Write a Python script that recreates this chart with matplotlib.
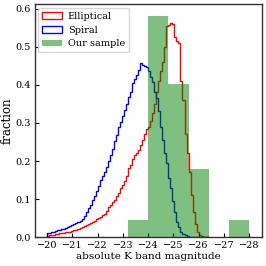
import numpy as np
import matplotlib
matplotlib.use("Agg")
import matplotlib.pyplot as plt

plt.rcParams['font.family'] = ['DejaVu Serif']

# Fine-binned fractions (density per mag), bins of 0.08 mag starting at -20.0 going brighter
fine_start = -20.0
fine_width = 0.08
elliptical = [
    0.004, 0.005, 0.006, 0.007, 0.008, 0.009, 0.010, 0.0105, 0.012, 0.013,
    0.014, 0.015, 0.017, 0.019, 0.020, 0.022, 0.025, 0.027, 0.030, 0.033,
    0.035, 0.038, 0.040, 0.043, 0.047, 0.050, 0.054, 0.058, 0.062, 0.070,
    0.080, 0.085, 0.092, 0.098, 0.108, 0.115, 0.128, 0.138, 0.148, 0.160,
    0.183, 0.190, 0.205, 0.215, 0.220, 0.228, 0.242, 0.255, 0.270, 0.284,
    0.290, 0.305, 0.325, 0.350, 0.380, 0.410, 0.435, 0.460, 0.500, 0.553,
    0.557, 0.563, 0.560, 0.525, 0.515, 0.510, 0.410, 0.360, 0.270, 0.220,
    0.170, 0.110, 0.065, 0.035, 0.015, 0.006, 0.003, 0.001, 0.0, 0.0,
]
spiral = [
    0.011, 0.012, 0.014, 0.015, 0.017, 0.019, 0.020, 0.022, 0.023, 0.025,
    0.027, 0.030, 0.032, 0.034, 0.037, 0.040, 0.043, 0.048, 0.055, 0.065,
    0.076, 0.085, 0.097, 0.108, 0.122, 0.135, 0.150, 0.162, 0.172, 0.185,
    0.200, 0.215, 0.232, 0.252, 0.268, 0.290, 0.302, 0.318, 0.334, 0.350,
    0.369, 0.380, 0.404, 0.415, 0.426, 0.440, 0.457, 0.452, 0.450, 0.446,
    0.435, 0.421, 0.408, 0.382, 0.365, 0.330, 0.290, 0.255, 0.220, 0.194,
    0.155, 0.130, 0.095, 0.065, 0.041, 0.028, 0.015, 0.008, 0.005, 0.003,
    0.002, 0.001, 0.0, 0.0, 0.0, 0.0, 0.0, 0.0, 0.0, 0.0,
]

# Our sample: counts per 0.8-mag bin, from -23.2 going brighter
sample_start = -23.2
sample_width = 0.8
sample_counts = [1, 13, 9, 4, 0, 1]

xticks = [-20, -21, -22, -23, -24, -25, -26, -27, -28]
yticks = [0.0, 0.1, 0.2, 0.3, 0.4, 0.5, 0.6]

n_fine = len(elliptical)
fine_edges = np.sort(fine_start - fine_width * np.arange(n_fine + 1))
fine_centers_desc = fine_start - fine_width * (np.arange(n_fine) + 0.5)

n_s = len(sample_counts)
s_edges = np.sort(sample_start - sample_width * np.arange(n_s + 1))
s_centers = sample_start - sample_width * (np.arange(n_s) + 0.5)

fig = plt.figure(figsize=(2.66, 2.66), dpi=100)
ax = fig.add_axes([0.130, 0.108, 0.854, 0.877])

ax.hist(fine_centers_desc, bins=fine_edges, weights=elliptical, histtype='step',
        color='red', lw=1.0, label='Elliptical', zorder=1)
ax.hist(fine_centers_desc, bins=fine_edges, weights=spiral, histtype='step',
        color='blue', lw=1.0, label='Spiral', zorder=1)
ax.hist(s_centers, bins=s_edges, weights=sample_counts, density=True,
        color='green', alpha=0.5, label='Our sample', zorder=2)

ax.set_xlim(-19.5, -28.5)
ax.set_ylim(0, 0.612)
ax.set_xticks(xticks)
ax.set_xticklabels([f"\u2212{abs(t)}" for t in xticks])
ax.set_yticks(yticks)
ax.set_yticklabels([f"{t:.1f}" for t in yticks])
ax.tick_params(direction='in', labelsize=7, length=3, width=0.8, pad=3)
for s in ax.spines.values():
    s.set_linewidth(1.0)
    s.set_color('#333333')

ax.set_xlabel('absolute K band magnitude', fontsize=7.5, labelpad=1)
ax.set_ylabel('fraction', fontsize=8.5, labelpad=1)

ax.legend(loc='upper left', fontsize=7, frameon=True, borderpad=0.4,
          handlelength=2.0, handletextpad=0.6, labelspacing=0.5,
          borderaxespad=0.4)

fig.savefig('out.png', dpi=100)
